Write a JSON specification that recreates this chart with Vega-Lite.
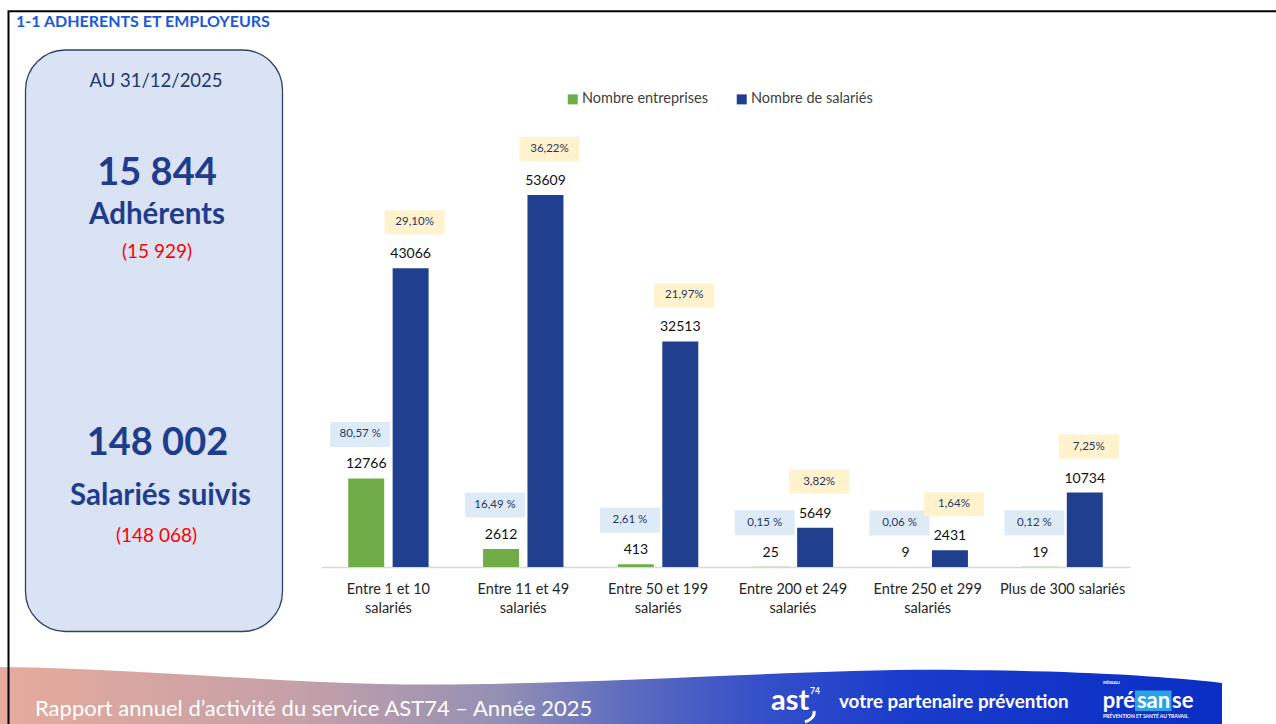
{
  "$schema": "https://vega.github.io/schema/vega-lite/v6.json",
  "width": 1276,
  "height": 724,
  "padding": 0,
  "autosize": {"type": "none"},
  "background": "white",
  "config": {"view": {"stroke": null}, "font": "Lato"},
  "datasets": {
    "bars": [
      {"cat": "Entre 1 et 10 salariés", "series": "Nombre entreprises", "value": 12766, "pct": "80,57 %"},
      {"cat": "Entre 1 et 10 salariés", "series": "Nombre de salariés", "value": 43066, "pct": "29,10%"},
      {"cat": "Entre 11 et 49 salariés", "series": "Nombre entreprises", "value": 2612, "pct": "16,49 %"},
      {"cat": "Entre 11 et 49 salariés", "series": "Nombre de salariés", "value": 53609, "pct": "36,22%"},
      {"cat": "Entre 50 et 199 salariés", "series": "Nombre entreprises", "value": 413, "pct": "2,61 %"},
      {"cat": "Entre 50 et 199 salariés", "series": "Nombre de salariés", "value": 32513, "pct": "21,97%"},
      {"cat": "Entre 200 et 249 salariés", "series": "Nombre entreprises", "value": 25, "pct": "0,15 %"},
      {"cat": "Entre 200 et 249 salariés", "series": "Nombre de salariés", "value": 5649, "pct": "3,82%"},
      {"cat": "Entre 250 et 299 salariés", "series": "Nombre entreprises", "value": 9, "pct": "0,06 %"},
      {"cat": "Entre 250 et 299 salariés", "series": "Nombre de salariés", "value": 2431, "pct": "1,64%"},
      {"cat": "Plus de 300 salariés", "series": "Nombre entreprises", "value": 19, "pct": "0,12 %"},
      {"cat": "Plus de 300 salariés", "series": "Nombre de salariés", "value": 10734, "pct": "7,25%"}
    ]
  },
  "data": {"name": "bars"},
  "layer": [
    {
      "data": {"values": [{}]},
      "mark": {"type": "point", "x": 0, "y": 0, "size": 4, "filled": true, "opacity": 1, "strokeWidth": 0,
        "shape": "M0,667 C120,668 240,680 380,684 C560,688 800,668 960,670 C1080,671 1160,676 1222,683 L1222,724 L0,724 Z",
        "fill": {"gradient": "linear", "x1": 0, "y1": 0, "x2": 1, "y2": 0,
          "stops": [
            {"offset": 0, "color": "#e6ab9b"},
            {"offset": 0.25, "color": "#c4a0a8"},
            {"offset": 0.41, "color": "#9390b5"},
            {"offset": 0.52, "color": "#5b6ac0"},
            {"offset": 0.62, "color": "#3550c8"},
            {"offset": 0.74, "color": "#1a3ccc"},
            {"offset": 1, "color": "#0a2ec4"}
          ]}},
      "encoding": {}
    },
    {
      "data": {"values": [{}]},
      "mark": {"type": "text", "x": 35, "y": 716, "align": "left", "baseline": "alphabetic", "fontSize": 22, "fill": "white", "text": "Rapport annuel d’activité du service AST74 – Année 2025"},
      "encoding": {}
    },
    {
      "data": {"values": [{}]},
      "mark": {"type": "text", "x": 771, "y": 710, "align": "left", "baseline": "alphabetic", "fontSize": 29, "fontWeight": "bold", "fill": "white", "text": "ast"},
      "encoding": {}
    },
    {
      "data": {"values": [{}]},
      "mark": {"type": "text", "x": 810, "y": 694, "align": "left", "baseline": "alphabetic", "fontSize": 8.5, "fontWeight": "bold", "fill": "white", "text": "74"},
      "encoding": {}
    },
    {
      "data": {"values": [{}]},
      "mark": {"type": "point", "x": 0, "y": 0, "size": 4, "filled": false, "opacity": 1, "stroke": "white", "strokeWidth": 3,
        "shape": "M814,711 C815,716 811,720 805,722"},
      "encoding": {}
    },
    {
      "data": {"values": [{}]},
      "mark": {"type": "text", "x": 839, "y": 708, "align": "left", "baseline": "alphabetic", "fontSize": 18.8, "fontWeight": "bold", "fill": "white", "text": "votre partenaire prévention"},
      "encoding": {}
    },
    {
      "data": {"values": [{}]},
      "mark": {"type": "rect", "x": 1135, "x2": 1171.5, "y": 690.5, "y2": 711, "fill": "#27a3e6"},
      "encoding": {}
    },
    {
      "data": {"values": [{}]},
      "mark": {"type": "text", "x": 1135, "y": 708, "align": "right", "baseline": "alphabetic", "fontSize": 22, "fontWeight": "bold", "fill": "white", "text": "pré"},
      "encoding": {}
    },
    {
      "data": {"values": [{}]},
      "mark": {"type": "text", "x": 1153.5, "y": 708, "align": "center", "baseline": "alphabetic", "fontSize": 22, "fontWeight": "bold", "fill": "white", "text": "san"},
      "encoding": {}
    },
    {
      "data": {"values": [{}]},
      "mark": {"type": "text", "x": 1172, "y": 708, "align": "left", "baseline": "alphabetic", "fontSize": 22, "fontWeight": "bold", "fill": "white", "text": "se"},
      "encoding": {}
    },
    {
      "data": {"values": [{}]},
      "mark": {"type": "text", "x": 1103, "y": 684, "align": "left", "baseline": "alphabetic", "fontSize": 4.5, "fontWeight": "bold", "fill": "white", "text": "RÉSEAU"},
      "encoding": {}
    },
    {
      "data": {"values": [{}]},
      "mark": {"type": "text", "x": 1103, "y": 718, "align": "left", "baseline": "alphabetic", "fontSize": 5, "fontWeight": "bold", "fill": "white", "text": "PRÉVENTION ET SANTÉ AU TRAVAIL"},
      "encoding": {}
    },
    {
      "data": {"values": [{}]},
      "mark": {"type": "rect", "x": 8.5, "y": 11.3, "x2": 1300, "y2": 760, "fill": "transparent", "stroke": "#000000", "strokeWidth": 2},
      "encoding": {}
    },
    {
      "data": {"values": [{}]},
      "mark": {"type": "text", "x": 16, "y": 27, "align": "left", "baseline": "alphabetic", "fontSize": 16, "fontWeight": "bold", "fill": "#1a5ad7", "text": "1-1 ADHERENTS ET EMPLOYEURS"},
      "encoding": {}
    },
    {
      "data": {"values": [{}]},
      "mark": {"type": "rect", "x": 25.5, "x2": 282.5, "y": 50, "y2": 631.5, "cornerRadius": 40, "fill": "#dae3f3", "stroke": "#2f4265", "strokeWidth": 1.3},
      "encoding": {}
    },
    {
      "data": {"values": [{}]},
      "mark": {"type": "text", "x": 156, "y": 86.5, "align": "center", "baseline": "alphabetic", "fontSize": 18.5, "fill": "#22386e", "text": "AU 31/12/2025"},
      "encoding": {}
    },
    {
      "data": {"values": [{}]},
      "mark": {"type": "text", "x": 157, "y": 185, "align": "center", "baseline": "alphabetic", "fontSize": 38, "fontWeight": "bold", "fill": "#1f3d8c", "text": "15 844"},
      "encoding": {}
    },
    {
      "data": {"values": [{}]},
      "mark": {"type": "text", "x": 157, "y": 224, "align": "center", "baseline": "alphabetic", "fontSize": 29.5, "fontWeight": "bold", "fill": "#1f3d8c", "text": "Adhérents"},
      "encoding": {}
    },
    {
      "data": {"values": [{}]},
      "mark": {"type": "text", "x": 157, "y": 258, "align": "center", "baseline": "alphabetic", "fontSize": 19, "fill": "#ff0000", "text": "(15 929)"},
      "encoding": {}
    },
    {
      "data": {"values": [{}]},
      "mark": {"type": "text", "x": 157.5, "y": 455, "align": "center", "baseline": "alphabetic", "fontSize": 38, "fontWeight": "bold", "fill": "#1f3d8c", "text": "148 002"},
      "encoding": {}
    },
    {
      "data": {"values": [{}]},
      "mark": {"type": "text", "x": 160.5, "y": 505, "align": "center", "baseline": "alphabetic", "fontSize": 29.5, "fontWeight": "bold", "fill": "#1f3d8c", "text": "Salariés suivis"},
      "encoding": {}
    },
    {
      "data": {"values": [{}]},
      "mark": {"type": "text", "x": 156.5, "y": 542, "align": "center", "baseline": "alphabetic", "fontSize": 19, "fill": "#ff0000", "text": "(148 068)"},
      "encoding": {}
    },
    {
      "encoding": {
        "x": {
          "field": "cat", "type": "nominal",
          "sort": ["Entre 1 et 10 salariés", "Entre 11 et 49 salariés", "Entre 50 et 199 salariés", "Entre 200 et 249 salariés", "Entre 250 et 299 salariés", "Plus de 300 salariés"],
          "scale": {"range": [321, 1130], "paddingInner": 0, "paddingOuter": 0},
          "axis": {
            "orient": "bottom", "offset": -157, "title": null, "ticks": false,
            "domain": true, "domainColor": "#d9d9d9", "domainWidth": 1.3,
            "labelAngle": 0, "labelPadding": 15, "labelFont": "Lato", "labelFontSize": 14.5,
            "labelColor": "#262626", "labelLimit": 0, "labelOverlap": false, "labelFlush": false,
            "labelLineHeight": 19, "labelBaseline": "top",
            "labelExpr": "datum.value == 'Plus de 300 salariés' ? datum.value : [replace(datum.value, ' salariés', ''), 'salariés']"
          }
        },
        "xOffset": {
          "field": "series", "type": "nominal",
          "sort": ["Nombre entreprises", "Nombre de salariés"],
          "scale": {"paddingInner": 0.19, "paddingOuter": 0.613}
        },
        "y": {
          "field": "value", "type": "quantitative",
          "scale": {"domain": [0, 53609], "range": [567, 195], "nice": false, "zero": true},
          "axis": null
        }
      },
      "layer": [
        {
          "mark": {"type": "bar"},
          "encoding": {
            "color": {
              "field": "series", "type": "nominal",
              "scale": {"domain": ["Nombre entreprises", "Nombre de salariés"], "range": ["#70ad47", "#203f8f"]},
              "legend": {
                "orient": "none", "legendX": 565.5, "legendY": 92, "direction": "horizontal",
                "title": null, "symbolType": "square", "symbolSize": 100, "symbolStrokeWidth": 0,
                "labelFont": "Lato", "labelFontSize": 14.5, "labelColor": "#404040",
                "labelOffset": 2, "columnPadding": 26, "padding": 0
              }
            }
          }
        },
        {
          "mark": {"type": "text", "baseline": "alphabetic", "dy": -10, "fontSize": 14, "fill": "#111111", "font": "Lato"},
          "encoding": {"text": {"field": "value", "type": "quantitative", "format": "d"}}
        },
        {
          "transform": [{"filter": "datum.series == 'Nombre entreprises'"}],
          "mark": {"type": "point", "size": 4, "filled": true, "opacity": 1, "strokeWidth": 0, "fill": "#deebf7",
            "shape": "M-36,-56.5L24,-56.5L24,-31.5L-36,-31.5Z"}
        },
        {
          "transform": [{"filter": "datum.series == 'Nombre de salariés'"}],
          "mark": {"type": "point", "size": 4, "filled": true, "opacity": 1, "strokeWidth": 0, "fill": "#fff2cc",
            "shape": "M-26,-58L34,-58L34,-34L-26,-34Z"}
        },
        {
          "transform": [{"filter": "datum.series == 'Nombre entreprises'"}],
          "mark": {"type": "text", "baseline": "middle", "dx": -6, "dy": -44, "fontSize": 11.5, "fill": "#1f3864", "font": "Lato"},
          "encoding": {"text": {"field": "pct", "type": "nominal"}}
        },
        {
          "transform": [{"filter": "datum.series == 'Nombre de salariés'"}],
          "mark": {"type": "text", "baseline": "middle", "dx": 4, "dy": -46, "fontSize": 11.5, "fill": "#1f3864", "font": "Lato"},
          "encoding": {"text": {"field": "pct", "type": "nominal"}}
        }
      ]
    }
  ]
}
